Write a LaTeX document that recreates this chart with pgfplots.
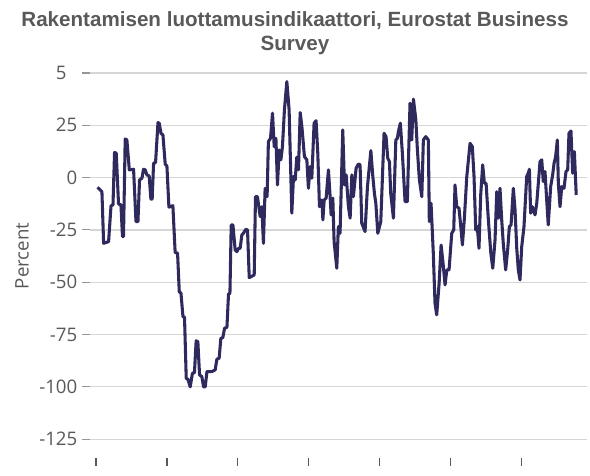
\documentclass[border=0pt]{standalone}
\usepackage{fontspec}
\setmainfont{Liberation Sans}
\newfontfamily\tickfont{Open Sans}
\usepackage{pgfplots}
\pgfplotsset{compat=1.18}
\definecolor{linecol}{RGB}{46,42,94}
\definecolor{txtgray}{RGB}{89,89,89}
\definecolor{gridgray}{RGB}{214,214,214}

% month-ish readings of the confidence indicator (balance, %)
\pgfplotstableread{
x y
1985.11 -4.6
1985.42 -6.7
1985.54 -31.4
1985.89 -30.6
1986.06 -13.5
1986.20 -13.0
1986.31 12.0
1986.43 11.7
1986.59 -12.6
1986.76 -13.0
1986.87 -28.2
1986.94 -28.2
1987.06 18.5
1987.18 18.0
1987.35 3.7
1987.65 4.0
1987.82 -21.0
1987.96 -21.0
1988.07 -1.1
1988.24 -0.3
1988.35 4.0
1988.47 3.7
1988.59 1.3
1988.75 0.8
1988.87 -10.3
1988.96 -10.3
1989.06 6.9
1989.20 7.2
1989.37 26.3
1989.46 26.0
1989.58 21.2
1989.72 20.4
1989.88 6.4
1990.00 5.6
1990.14 -14.1
1990.42 -13.4
1990.58 -35.8
1990.75 -36.1
1990.87 -54.5
1990.99 -55.3
1991.13 -66.4
1991.24 -66.7
1991.36 -95.9
1991.48 -96.4
1991.64 -100.0
1991.80 -93.5
1991.94 -93.2
1992.06 -78.0
1992.18 -78.4
1992.30 -94.3
1992.46 -95.1
1992.58 -100.0
1992.70 -100.0
1992.82 -92.7
1993.17 -92.7
1993.40 -91.9
1993.52 -86.8
1993.68 -86.3
1993.80 -76.8
1993.94 -76.5
1994.06 -72.0
1994.23 -71.5
1994.34 -55.6
1994.44 -55.3
1994.53 -22.6
1994.65 -22.6
1994.81 -34.6
1994.93 -35.4
1995.04 -33.8
1995.16 -33.8
1995.28 -27.4
1995.39 -26.6
1995.56 -24.7
1995.68 -25.0
1995.80 -47.8
1995.94 -47.3
1996.15 -46.5
1996.24 -9.1
1996.38 -9.1
1996.57 -18.6
1996.69 -13.9
1996.80 -31.4
1996.92 -5.1
1997.06 -9.1
1997.15 17.2
1997.30 18.8
1997.44 30.8
1997.56 14.8
1997.68 18.8
1997.79 -3.5
1997.91 13.2
1998.03 8.5
1998.14 14.8
1998.28 32.4
1998.45 45.9
1998.61 32.4
1998.80 -17.0
1998.92 0.5
1999.04 -1.1
1999.15 9.8
1999.27 3.7
1999.39 31.1
1999.51 24.4
1999.69 10.0
1999.86 8.5
1999.97 -5.1
2000.09 5.3
2000.21 -0.3
2000.37 26.0
2000.51 27.2
2000.63 11.7
2000.75 -13.9
2000.92 -10.7
2000.99 -20.2
2001.08 -10.7
2001.22 -9.8
2001.38 3.7
2001.50 -9.1
2001.57 -17.8
2001.69 -9.8
2001.78 -30.6
2001.97 -43.3
2002.08 -23.4
2002.20 -26.6
2002.39 22.8
2002.51 -3.5
2002.63 1.3
2002.79 -13.9
2002.91 -19.4
2003.03 1.3
2003.14 -9.1
2003.33 4.5
2003.49 6.5
2003.61 6.1
2003.73 -21.8
2003.96 -25.8
2004.13 -4.3
2004.37 12.9
2004.51 0.5
2004.62 -7.5
2004.72 -12.2
2004.86 -26.6
2005.07 -21.0
2005.30 21.2
2005.44 19.6
2005.56 9.3
2005.68 7.6
2005.77 -7.5
2005.96 -19.4
2006.13 18.0
2006.24 18.8
2006.31 22.0
2006.45 26.0
2006.59 11.7
2006.78 -11.5
2006.94 -11.5
2007.13 35.6
2007.25 18.0
2007.37 37.5
2007.54 27.6
2007.65 13.2
2007.79 -1.1
2007.96 -9.1
2008.07 18.0
2008.24 19.6
2008.42 18.0
2008.49 -21.0
2008.61 -12.2
2008.77 -36.1
2008.89 -60.0
2009.01 -65.6
2009.18 -50.5
2009.32 -32.2
2009.48 -42.5
2009.60 -51.3
2009.72 -44.1
2009.88 -44.1
2010.07 -26.6
2010.21 -25.0
2010.30 -3.5
2010.42 -13.9
2010.58 -14.6
2010.73 -25.0
2010.82 -32.2
2010.96 -19.4
2011.13 0.5
2011.36 16.4
2011.52 14.8
2011.64 0.5
2011.76 -25.0
2011.87 -23.4
2011.99 -33.8
2012.11 -8.3
2012.25 6.1
2012.37 -2.7
2012.49 -2.7
2012.65 -20.2
2012.82 -35.8
2012.96 -43.3
2013.12 -29.8
2013.24 -6.7
2013.35 -19.4
2013.47 -5.1
2013.59 -20.2
2013.70 -31.4
2013.87 -44.1
2014.01 -34.6
2014.13 -23.4
2014.25 -22.6
2014.41 -5.1
2014.53 -15.4
2014.65 -33.8
2014.76 -44.1
2014.88 -48.9
2015.00 -33.0
2015.16 -23.4
2015.35 0.5
2015.46 2.1
2015.54 4.0
2015.63 -17.0
2015.75 -13.9
2015.94 -17.8
2016.06 -12.2
2016.29 7.6
2016.41 8.5
2016.52 -1.9
2016.64 2.9
2016.76 -10.7
2016.87 -22.6
2017.04 -4.3
2017.18 1.3
2017.28 6.9
2017.39 10.0
2017.51 18.0
2017.58 -2.7
2017.70 -13.9
2017.82 -4.3
2017.98 -5.1
2018.12 2.9
2018.24 3.7
2018.33 21.2
2018.47 22.3
2018.59 2.1
2018.71 12.4
2018.84 -8.3
}\conf

\begin{document}
\begin{tikzpicture}
\begin{axis}[
  name=ax,
  scale only axis,
  width=372.75pt, height=288.75pt,
  xmin=1984.58, xmax=2019.6,
  ymin=-134, ymax=50,
  axis x line*=bottom, axis y line*=left,
  axis line style={draw=none},
  tick align=outside,
  major tick length=6pt,
  xtick={1985,1990,...,2015},
  xticklabels={},
  xtick style={draw=txtgray, line width=0.9pt},
  ytick={-125,-100,...,50},
  yticklabels={-125,-100,-75,-50,-25,0,25,5\phantom{0}},
  ytick style={draw=gridgray!70!black, line width=0.8pt},
  yticklabel style={font=\tickfont\fontsize{14}{16}\selectfont, text=txtgray, anchor=east},
  ymajorgrids,
  major grid style={draw=gridgray, line width=0.9pt},
  clip=false,
]
\addplot[linecol, line width=2.3pt, line join=round] table[x=x, y=y] {\conf};
\end{axis}
\node[rotate=90, text=txtgray, font=\tickfont\fontsize{14}{16}\selectfont]
  at ([shift={(-51pt,151.5pt)}]ax.south west) {Percent};
\node[align=center, text=txtgray, font=\bfseries\fontsize{15.45}{18}\selectfont]
  at ([shift={(153.75pt,30pt)}]ax.north west)
  {Rakentamisen luottamusindikaattori, Eurostat Business\\Survey};
\path[use as bounding box] ([shift={(-67.5pt,-6pt)}]ax.south west)
  rectangle ([shift={(2.25pt,54.75pt)}]ax.north east);
\end{tikzpicture}
\end{document}
